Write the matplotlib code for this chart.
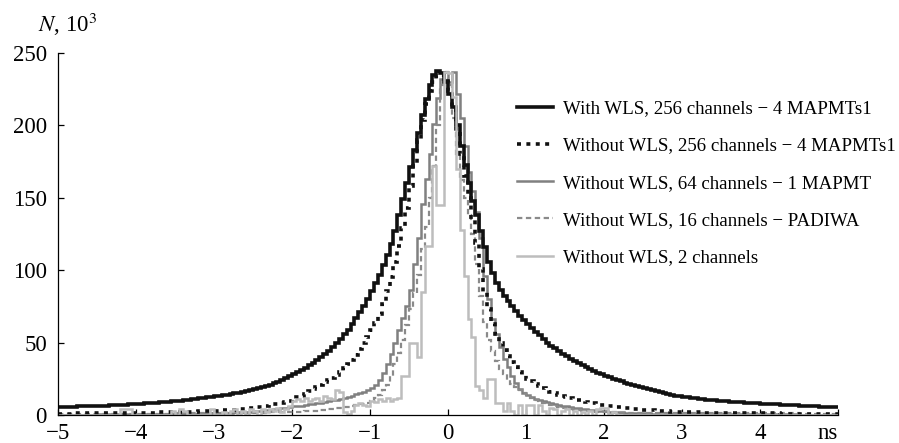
import numpy as np
import matplotlib
matplotlib.use('Agg')
import matplotlib.pyplot as plt
from matplotlib.lines import Line2D

plt.rcParams['font.family'] = ['Liberation Serif', 'DejaVu Serif']
plt.rcParams['mathtext.fontset'] = 'stix'

# ── Data: time histograms, 0.05 ns bins from -5 to 5 ns (counts in 10^3) ─────
bin_lo, bin_hi, bin_w = -5.0, 5.0, 0.05

with_wls_256 = [
    5.5, 5.6, 5.6, 5.7, 5.8, 5.9, 5.9, 6.0, 6.1, 6.2, 6.3, 6.4, 6.5, 6.6, 6.8, 6.9, 7.0, 7.2, 7.3, 7.5,
    7.7, 7.9, 8.0, 8.2, 8.4, 8.6, 8.8, 9.0, 9.3, 9.5, 9.8, 10.0, 10.3, 10.6, 10.9, 11.2, 11.5, 11.8, 12.1, 12.5,
    12.9, 13.3, 13.7, 14.1, 14.5, 15.0, 15.5, 16.0, 16.5, 17.1, 17.7, 18.4, 19.2, 20.0, 20.9, 21.9, 23.0, 24.2, 25.5, 27.0,
    28.5, 29.8, 31.2, 32.7, 34.3, 36.0, 37.9, 39.9, 42.1, 44.5, 47.0, 49.7, 52.6, 55.7, 59.0, 62.7, 66.7, 71.0, 75.5, 80.3,
    85.5, 91, 97, 103.5, 110.5, 118, 127, 138, 149, 160, 171, 183, 195, 207, 218, 228, 235, 237.5, 236, 230,
    222, 213, 200, 186, 173, 160, 148, 138, 127, 116, 106, 98, 91, 86, 82, 78.5, 75, 71.5, 68.5, 65.5,
    63, 60, 57.5, 55, 52.5, 50, 48, 46, 44, 42, 40.5, 39, 37.5, 36, 34.5, 33, 31.7, 30.4, 29.2, 28.1,
    27.1, 26.1, 25.1, 24.2, 23.3, 22.4, 21.6, 20.8, 20.0, 19.2, 18.4, 17.7, 17.0, 16.3, 15.7, 15.1, 14.5, 13.9, 13.4, 12.9,
    12.5, 12.1, 11.8, 11.5, 11.2, 10.9, 10.6, 10.3, 10.1, 9.9, 9.7, 9.5, 9.3, 9.1, 8.9, 8.7, 8.5, 8.4, 8.2, 8.1,
    7.9, 7.8, 7.6, 7.5, 7.3, 7.2, 7.0, 6.9, 6.7, 6.6, 6.4, 6.3, 6.2, 6.0, 5.9, 5.8, 5.6, 5.5, 5.4, 5.3,
]

no_wls_256 = [
    1.0, 1.0, 1.0, 1.0, 1.1, 1.1, 1.1, 1.1, 1.2, 1.2, 1.2, 1.2, 1.3, 1.3, 1.3, 1.3, 1.4, 1.4, 1.4, 1.4,
    1.5, 1.5, 1.6, 1.6, 1.7, 1.7, 1.8, 1.8, 1.9, 1.9, 2.0, 2.0, 2.1, 2.2, 2.3, 2.4, 2.5, 2.6, 2.7, 2.8,
    2.9, 3.0, 3.2, 3.3, 3.5, 3.7, 3.9, 4.1, 4.4, 4.7, 5.0, 5.4, 5.8, 6.3, 6.8, 7.3, 7.9, 8.5, 9.2, 10.0,
    10.9, 12.1, 13.4, 14.8, 16.3, 17.9, 19.6, 21.0, 22.5, 24.1, 25.8, 27.7, 29.8, 32.2, 35.0, 38.2, 41.7, 45.5, 49.6, 54.0,
    58.5, 63.5, 69.5, 77, 85.5, 95, 105.5, 117, 129.5, 143, 158, 174, 190, 204, 215, 224, 230, 234, 235, 231,
    224, 212, 196, 180, 165, 150, 135, 119, 101, 85, 73, 63, 56, 50, 45, 40.5, 36.5, 33, 30, 27.5,
    25.2, 23.3, 21.5, 19.9, 18.5, 17.2, 16.1, 15.0, 14.0, 13.1, 12.3, 11.6, 10.9, 10.3, 9.7, 9.1, 8.6, 8.1, 7.6, 7.2,
    6.8, 6.4, 6.0, 5.6, 5.3, 5.0, 4.7, 4.4, 4.1, 3.8, 3.6, 3.4, 3.2, 3.0, 2.8, 2.7, 2.5, 2.4, 2.3, 2.2,
    2.1, 2.0, 1.9, 1.9, 1.8, 1.7, 1.7, 1.6, 1.6, 1.5, 1.5, 1.4, 1.4, 1.3, 1.3, 1.3, 1.2, 1.2, 1.2, 1.1,
    1.1, 1.1, 1.1, 1.1, 1.1, 1.0, 1.0, 1.0, 1.0, 1.0, 1.0, 1.0, 1.0, 1.0, 1.0, 1.0, 1.0, 1.0, 1.0, 1.0,
]

no_wls_64 = [
    0.3, 0.3, 0.3, 0.3, 0.3, 0.3, 0.3, 0.3, 0.3, 0.3, 0.4, 0.4, 0.4, 0.4, 0.4, 0.4, 0.4, 0.4, 0.4, 0.4,
    0.5, 0.5, 0.5, 0.6, 0.6, 0.6, 0.7, 0.7, 0.7, 0.8, 0.8, 0.8, 0.9, 0.9, 1.0, 1.0, 1.1, 1.1, 1.2, 1.2,
    1.3, 1.4, 1.5, 1.6, 1.7, 1.8, 1.9, 2.0, 2.2, 2.4, 2.6, 2.8, 3.0, 3.3, 3.6, 3.9, 4.3, 4.7, 5.1, 5.5,
    5.9, 6.2, 6.5, 6.9, 7.3, 7.7, 8.1, 8.6, 9.1, 9.6, 10.1, 10.7, 11.3, 12.0, 12.7, 13.4, 14.2, 15.1, 16.1, 17.2,
    18.5, 20.5, 24, 29, 35, 42, 50, 59, 67, 75, 86, 104, 122, 146, 163, 180, 201, 219, 232, 237,
    230, 237, 222, 205, 186, 168, 155, 140, 122, 96, 80, 66, 56, 47, 39, 33, 27, 22, 18, 15,
    13.5, 12.3, 11.3, 10.4, 9.6, 8.8, 8.1, 7.5, 6.9, 6.4, 5.9, 5.4, 5.0, 4.6, 4.2, 3.9, 3.6, 3.3, 3.0, 2.8,
    2.6, 2.4, 2.2, 2.0, 1.9, 1.7, 1.6, 1.5, 1.4, 1.3, 1.2, 1.1, 1.0, 0.9, 0.9, 0.8, 0.8, 0.7, 0.7, 0.6,
    0.6, 0.6, 0.6, 0.6, 0.6, 0.6, 0.6, 0.6, 0.6, 0.6, 0.5, 0.5, 0.5, 0.5, 0.5, 0.5, 0.5, 0.5, 0.5, 0.5,
    0.4, 0.4, 0.4, 0.4, 0.4, 0.4, 0.4, 0.4, 0.4, 0.4, 0.3, 0.3, 0.3, 0.3, 0.3, 0.3, 0.3, 0.3, 0.3, 0.3,
]

no_wls_16 = [
    1.0, 1.0, 1.0, 1.0, 1.0, 1.0, 1.0, 1.0, 1.0, 1.0, 1.0, 1.0, 1.0, 1.0, 1.0, 1.0, 1.0, 1.0, 1.0, 1.0,
    1.0, 1.0, 1.0, 1.0, 1.0, 1.0, 1.0, 1.0, 1.0, 1.0, 1.1, 1.1, 1.1, 1.1, 1.1, 1.1, 1.1, 1.1, 1.1, 1.1,
    1.2, 1.2, 1.2, 1.3, 1.3, 1.3, 1.4, 1.4, 1.5, 1.5, 1.6, 1.6, 1.7, 1.7, 1.8, 1.8, 1.9, 1.9, 2.0, 2.0,
    2.1, 2.2, 2.3, 2.5, 2.7, 2.9, 3.1, 3.3, 3.6, 3.9, 4.2, 4.5, 4.9, 5.3, 5.7, 6.2, 6.7, 7.3, 7.9, 8.6,
    9.5, 11.5, 14, 17, 21, 27, 35, 43, 52, 62, 73, 84, 97, 115, 130, 150, 172, 200, 228, 237,
    228, 205, 180, 162, 150, 138, 125, 104, 82, 64, 52, 44, 37, 32, 28, 24.5, 21.5, 19.5, 17, 15,
    13.5, 12, 10.7, 9.6, 8.6, 7.7, 6.9, 6.2, 5.6, 5.0, 4.5, 4.1, 3.7, 3.4, 3.1, 2.8, 2.6, 2.4, 2.2, 2.0,
    1.9, 1.9, 1.8, 1.8, 1.7, 1.7, 1.6, 1.6, 1.5, 1.5, 1.5, 1.4, 1.4, 1.4, 1.3, 1.3, 1.3, 1.2, 1.2, 1.2,
    1.2, 1.2, 1.2, 1.2, 1.2, 1.2, 1.2, 1.2, 1.2, 1.2, 1.1, 1.1, 1.1, 1.1, 1.1, 1.1, 1.1, 1.1, 1.1, 1.1,
    1.1, 1.1, 1.1, 1.1, 1.1, 1.1, 1.1, 1.1, 1.1, 1.1, 1.0, 1.0, 1.0, 1.0, 1.0, 1.0, 1.0, 1.0, 1.0, 1.0,
]

no_wls_2 = [
    0, 0, 0, 0, 0, 0, 0, 0, 0, 0, 0, 0, 0, 0, 0, 0, 4, 4, 4, 0,
    0, 0, 0, 0, 0, 0, 0, 0, 0, 3, 0, 4, 3, 0, 0, 0, 0, 0, 0, 4,
    0, 0, 2, 0, 3, 4, 0, 3, 0, 4, 3, 0, 4, 2, 4, 3, 5, 2, 4, 6,
    10, 11, 10, 12, 10, 11, 12, 10, 13, 12, 11, 17, 16, 2, 1, 3, 7, 8, 7, 6,
    10, 9, 11, 10, 12, 10, 11, 12, 27, 27, 50, 50, 40, 85, 117, 117, 172, 145, 145, 237,
    236, 220, 170, 128, 96, 66, 54, 20, 17, 12, 25, 25, 8, 8, 3, 8, 3, 0, 7, 0,
    7, 7, 0, 7, 3, 0, 5, 4, 0, 3, 4, 0, 3, 0, 2, 0, 3, 0, 4, 5,
    5, 0, 2, 0, 0, 0, 0, 0, 0, 0, 0, 0, 0, 0, 0, 0, 0, 0, 0, 0,
    0, 0, 0, 0, 0, 0, 0, 0, 0, 0, 0, 0, 0, 0, 0, 0, 0, 0, 0, 0,
    0, 0, 0, 0, 0, 0, 0, 0, 0, 0, 0, 0, 0, 0, 0, 0, 0, 0, 0, 0,
]

labels = [
    'With WLS, 256 channels \u2212 4 MAPMTs1',
    'Without WLS, 256 channels \u2212 4 MAPMTs1',
    'Without WLS, 64 channels \u2212 1 MAPMT',
    'Without WLS, 16 channels \u2212 PADIWA',
    'Without WLS, 2 channels',
]
x_ticks = [-5, -4, -3, -2, -1, 0, 1, 2, 3, 4, 5]
x_tick_labels = ['\u22125', '\u22124', '\u22123', '\u22122', '\u22121', '0', '1', '2', '3', '4', 'ns']
y_ticks = [0, 50, 100, 150, 200, 250]

edges = np.round(np.arange(bin_lo, bin_hi + bin_w / 2, bin_w), 3)

series = [with_wls_256, no_wls_256, no_wls_64, no_wls_16, no_wls_2]
styles = [
    dict(color='#111111', lw=2.6, ls='-'),
    dict(color='#111111', lw=2.6, ls=(0, (1.1, 1.5))),
    dict(color='#808080', lw=1.8, ls='-'),
    dict(color='#8a8a8a', lw=1.6, ls=(0, (2.4, 1.6))),
    dict(color='#bdbdbd', lw=1.8, ls='-'),
]
zorders = [2.0, 2.1, 1.8, 1.9, 2.2]

# ── Plot ──────────────────────────────────────────────────────────────────────
fig = plt.figure(figsize=(8.99, 4.43), dpi=100)
ax = fig.add_axes([0.0645, 0.0632, 0.8677, 0.817])

handles = []
for vals, st, z in zip(series, styles, zorders):
    ax.stairs(vals, edges, baseline=None, color=st['color'], linewidth=st['lw'],
              linestyle=st['ls'], zorder=z)
    handles.append(Line2D([], [], color=st['color'], linewidth=st['lw'], linestyle=st['ls']))

ax.set_xlim(-5, 5)
ax.set_ylim(0, 250)
for s in ['top', 'right']:
    ax.spines[s].set_visible(False)
for s in ['left', 'bottom']:
    ax.spines[s].set_linewidth(0.9)

ax.set_xticks(x_ticks)
ax.set_xticklabels(x_tick_labels)
ax.xaxis.get_majorticklabels()[-1].set_horizontalalignment('right')
ax.set_yticks(y_ticks)
ax.tick_params(direction='in', length=4, width=0.9, labelsize=16.5, pad=6)
ax.tick_params(axis='y', pad=8)

fig.text(0.042, 0.928, r'$N$, 10$^3$', fontsize=16.5, va='baseline', ha='left')

ax.legend(handles, labels, loc='upper left', bbox_to_anchor=(0.575, 0.774),
          bbox_transform=fig.transFigure, frameon=False, fontsize=13.6,
          handlelength=1.9, handletextpad=0.53, labelspacing=1.06,
          borderpad=0, borderaxespad=0)

fig.savefig('out.png', dpi=100)
